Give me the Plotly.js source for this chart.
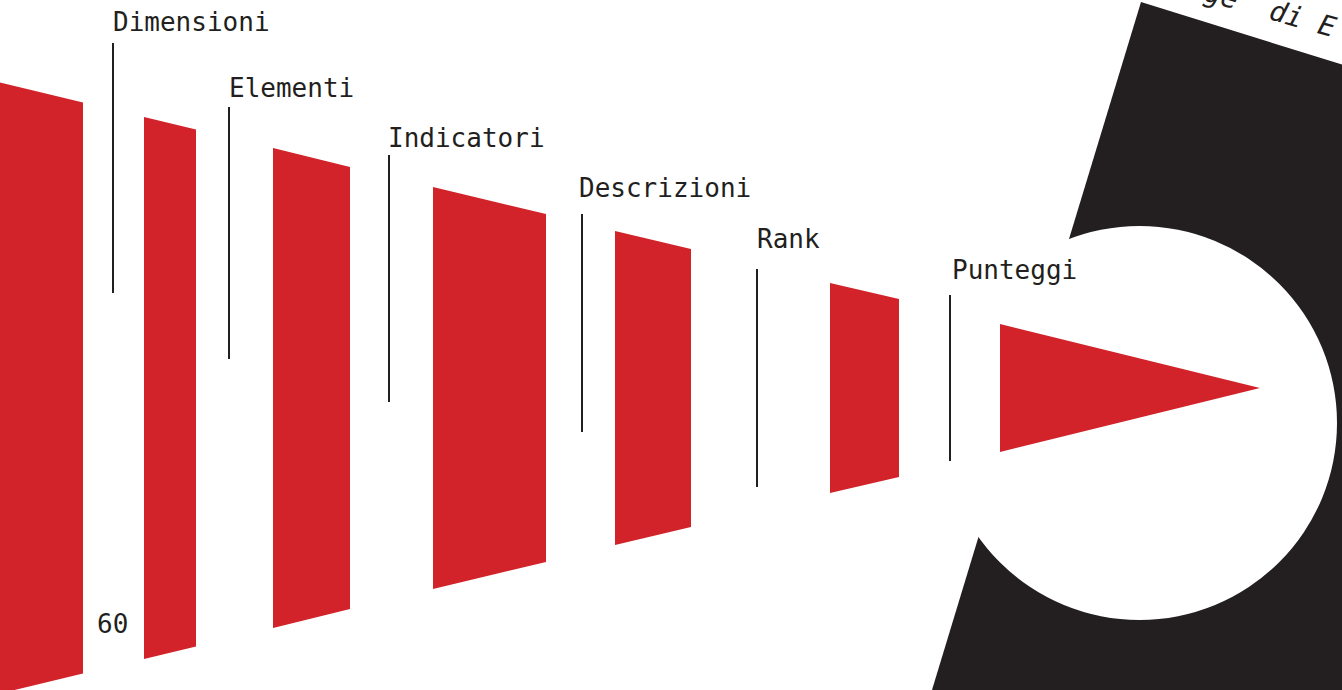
<!DOCTYPE html>
<html>
<head>
<meta charset="utf-8">
<script src="https://cdn.plot.ly/plotly-3.0.1.min.js"></script>
<style>
  html, body { margin: 0; padding: 0; background: #ffffff; }
  #chart { width: 1342px; height: 690px; }
</style>
</head>
<body>
<div id="chart"></div>
<script>
// ---- data ----
const stageLabels = ['Dimensioni', 'Elementi', 'Indicatori', 'Descrizioni', 'Rank', 'Punteggi'];
const heightIn  = [612, 542, 480, 402, 314, 210, 128];   // height of each block at its entry side
const heightOut = [571, 517, 442, 348, 278, 178, 0];     // height of each block at its exit side
const countLabel = '60';
const cornerText = 'ge\u00a0\u00a0di E';

// ---- layout helpers (positions / styles) ----
const RED = '#d2232b';
const INK = '#231f20';
const CENTER_Y = 388;
const blockX0 = [-2, 144, 273, 433, 615, 830, 1000];
const blockX1 = [83, 196, 350, 546, 691, 899, 1260];
const markX = [113, 229, 389, 582, 757, 950];
const markTop = [43, 107, 155, 214, 269, 295];
const markBottom = [293, 359, 402, 432, 487, 461];
const labelX = [111, 227, 386, 577, 755, 950];
const labelY = [22, 88, 138, 188, 239, 270];

const traces = [];
heightIn.forEach((h, i) => {
  const h2 = heightOut[i];
  traces.push({
    type: 'scatter', mode: 'lines', fill: 'toself',
    x: [blockX0[i], blockX1[i], blockX1[i], blockX0[i], blockX0[i]],
    y: [CENTER_Y - h / 2, CENTER_Y - h2 / 2, CENTER_Y + h2 / 2, CENTER_Y + h / 2, CENTER_Y - h / 2],
    fillcolor: RED, line: { width: 0, color: RED },
    hoverinfo: 'skip', showlegend: false
  });
});
stageLabels.forEach((lab, i) => {
  traces.push({
    type: 'scatter', mode: 'lines',
    x: [markX[i], markX[i]], y: [markTop[i], markBottom[i]],
    line: { color: INK, width: 2 }, hoverinfo: 'skip', showlegend: false
  });
});

const font = { family: 'DejaVu Sans Mono, monospace', size: 26, color: INK };
const annotations = stageLabels.map((lab, i) => ({
  x: labelX[i], y: labelY[i], xref: 'x', yref: 'y', text: lab,
  showarrow: false, xanchor: 'left', yanchor: 'middle', font: font
}));
annotations.push({
  x: 112, y: 624, xref: 'x', yref: 'y', text: countLabel,
  showarrow: false, xanchor: 'center', yanchor: 'middle', font: font
});
annotations.push({
  x: 1270, y: 9, xref: 'x', yref: 'y', text: cornerText, textangle: 16,
  showarrow: false, xanchor: 'center', yanchor: 'middle',
  font: { family: 'DejaVu Sans Mono, monospace', size: 28, color: INK, style: 'italic' }
});

// rotated black band with a round cut-out
const ang = 17.3 * Math.PI / 180;
const ux = Math.cos(ang), uy = Math.sin(ang);
const vx = -0.3038, vy = 1;
const p0 = [1141, 2];
const p1 = [p0[0] + 600 * ux, p0[1] + 600 * uy];
const p3 = [p0[0] + 900 * vx, p0[1] + 900 * vy];
const p2 = [p1[0] + 900 * vx, p1[1] + 900 * vy];
const bandPath = `M ${p0[0]} ${p0[1]} L ${p1[0]} ${p1[1]} L ${p2[0]} ${p2[1]} L ${p3[0]} ${p3[1]} Z`;

const layout = {
  width: 1342, height: 690,
  margin: { l: 0, r: 0, t: 0, b: 0, pad: 0 },
  paper_bgcolor: '#ffffff', plot_bgcolor: '#ffffff',
  xaxis: { range: [0, 1342], visible: false, fixedrange: true },
  yaxis: { range: [690, 0], visible: false, fixedrange: true },
  showlegend: false,
  shapes: [
    { type: 'path', path: bandPath, xref: 'x', yref: 'y', fillcolor: INK, line: { width: 0 }, layer: 'below' },
    { type: 'circle', xref: 'x', yref: 'y', x0: 942, x1: 1337, y0: 226, y1: 620, fillcolor: '#ffffff', line: { width: 0 }, layer: 'below' }
  ],
  annotations: annotations
};

Plotly.newPlot('chart', traces, layout, { displayModeBar: false, staticPlot: true });
</script>
</body>
</html>
